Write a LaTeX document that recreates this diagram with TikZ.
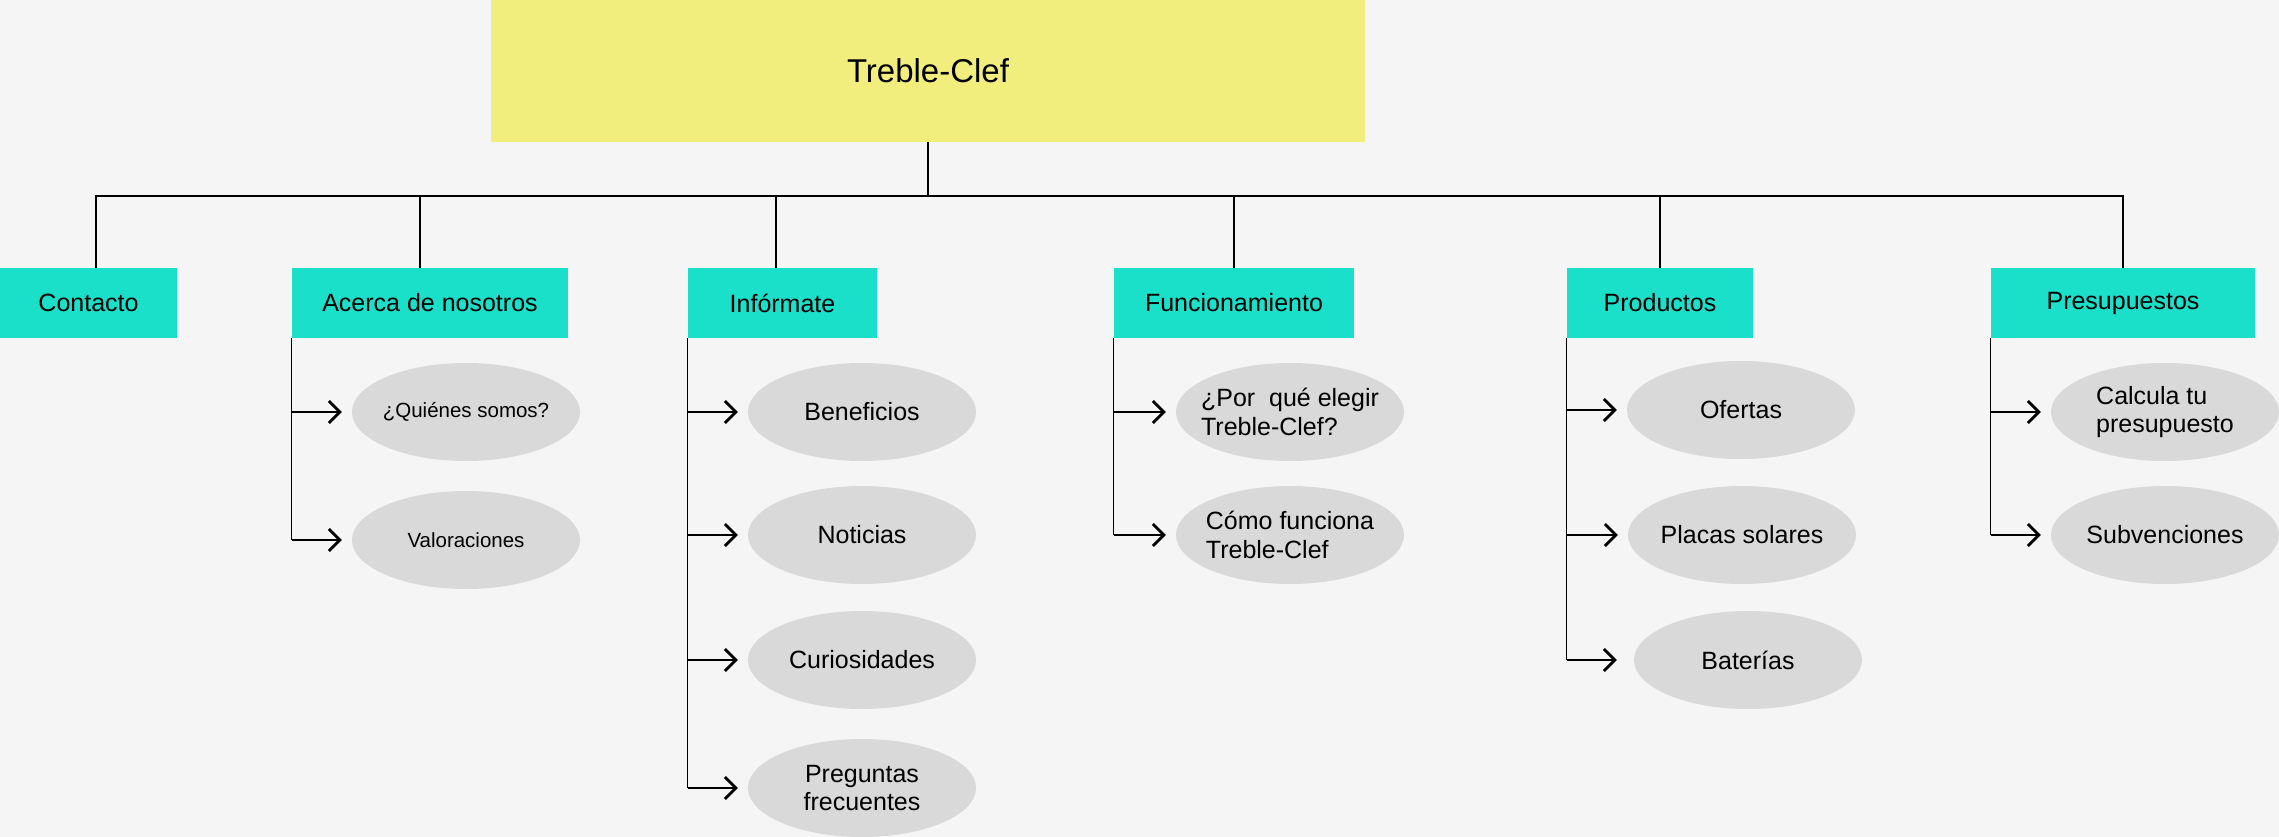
\documentclass[tikz,border=0pt]{standalone}
\usepackage{fontspec}
\setmainfont{Liberation Sans}
\usetikzlibrary{shapes.geometric}
\usetikzlibrary{arrows.meta}

\definecolor{fondo}{HTML}{F5F5F5}
\definecolor{amarillo}{HTML}{F2EE7E}
\definecolor{turquesa}{HTML}{1ADFC9}
\definecolor{gris}{HTML}{D9D9D9}

\begin{document}
\begin{tikzpicture}[x=1pt, y=-1pt,
    categoria/.style={fill=turquesa, minimum width=#1, minimum height=70pt, inner sep=0pt, font=\fontsize{25}{29}\selectfont},
    hoja/.style={ellipse, fill=gris, minimum width=228pt, minimum height=98pt, inner xsep=-16pt, inner ysep=0pt, align=center, font=\fontsize{25}{28.5}\selectfont},
    chica/.style={font=\fontsize{20.5}{24}\selectfont},
    rama/.style={line width=1.2pt},
    flecha/.style={line width=2.8pt, -{Straight Barb[length=11pt, width=22pt]}}]
            \useasboundingbox (0,0) rectangle (2279,837);
            \fill[fondo] (0,0) rectangle (2279,837);

            % Raiz
            \node[fill=amarillo, minimum width=874pt, minimum height=142pt, inner sep=0pt, font=\fontsize{33}{38}\selectfont] (titulo) at (928,71) {Treble-Clef};
            \coordinate (bus) at (928,196);

            % Categorias
            \node[categoria=177pt] (contacto) at (88.5,303) {Contacto};
            \node[categoria=276pt] (acerca) at (430,303) {Acerca de nosotros};
            \node[categoria=189pt] (informate) at (782.5,303) {Infórmate};
            \node[categoria=240pt] (funcionamiento) at (1234,303) {Funcionamiento};
            \node[categoria=186pt] (productos) at (1660,303) {Productos};
            \node[categoria=264pt] (presupuestos) at (2123,303) {Presupuestos};

            % Paginas
            \node[hoja, chica] (quienes) at (466,412) {¿Quiénes somos?};
            \node[hoja, chica] (valoraciones) at (466,540) {Valoraciones};
            \node[hoja] (beneficios) at (862,412) {Beneficios};
            \node[hoja] (noticias) at (862,535) {Noticias};
            \node[hoja] (curiosidades) at (862,660) {Curiosidades};
            \node[hoja] (preguntas) at (862,788) {Preguntas\\frecuentes};
            \node[hoja, align=left] (porque) at (1290,412) {¿Por\ \ qué elegir\\Treble-Clef?};
            \node[hoja, align=left] (como) at (1290,535) {Cómo funciona\\Treble-Clef};
            \node[hoja] (ofertas) at (1741,410) {Ofertas};
            \node[hoja] (placas) at (1742,535) {Placas solares};
            \node[hoja] (baterias) at (1748,660) {Baterías};
            \node[hoja, align=left] (calcula) at (2165,412) {Calcula tu\\presupuesto};
            \node[hoja] (subvenciones) at (2165,535) {Subvenciones};

            % Tronco
            \draw[rama] (titulo.south) -- (bus);
            \draw[rama] (bus) -| ([xshift=7.5pt]contacto.north);
            \draw[rama] (bus) -| ([xshift=-10pt]acerca.north);
            \draw[rama] (bus) -| ([xshift=-6.5pt]informate.north);
            \draw[rama] (bus) -| (funcionamiento.north);
            \draw[rama] (bus) -| (productos.north);
            \draw[rama] (bus) -| (presupuestos.north);

            % Ramas laterales
            \draw[rama] (acerca.south west) -- (acerca.south west |- valoraciones.west);
            \draw[rama] (informate.south west) -- (informate.south west |- preguntas.west);
            \draw[rama] (funcionamiento.south west) -- (funcionamiento.south west |- como.west);
            \draw[rama] (productos.south west) -- (productos.south west |- baterias.west);
            \draw[rama] (presupuestos.south west) -- (presupuestos.south west |- subvenciones.west);

            % Flechas
            \draw[flecha] (acerca.south west |- quienes.west) -- ([xshift=-10pt]quienes.west);
            \draw[flecha] (acerca.south west |- valoraciones.west) -- ([xshift=-10pt]valoraciones.west);
            \draw[flecha] (informate.south west |- beneficios.west) -- ([xshift=-10pt]beneficios.west);
            \draw[flecha] (informate.south west |- noticias.west) -- ([xshift=-10pt]noticias.west);
            \draw[flecha] (informate.south west |- curiosidades.west) -- ([xshift=-10pt]curiosidades.west);
            \draw[flecha] (informate.south west |- preguntas.west) -- ([xshift=-10pt]preguntas.west);
            \draw[flecha] (funcionamiento.south west |- porque.west) -- ([xshift=-10pt]porque.west);
            \draw[flecha] (funcionamiento.south west |- como.west) -- ([xshift=-10pt]como.west);
            \draw[flecha] (productos.south west |- ofertas.west) -- ([xshift=-10pt]ofertas.west);
            \draw[flecha] (productos.south west |- placas.west) -- ([xshift=-10pt]placas.west);
            \draw[flecha] (productos.south west |- baterias.west) -- ([xshift=-17pt]baterias.west);
            \draw[flecha] (presupuestos.south west |- calcula.west) -- ([xshift=-10pt]calcula.west);
            \draw[flecha] (presupuestos.south west |- subvenciones.west) -- ([xshift=-10pt]subvenciones.west);
          \end{tikzpicture}
\end{document}
